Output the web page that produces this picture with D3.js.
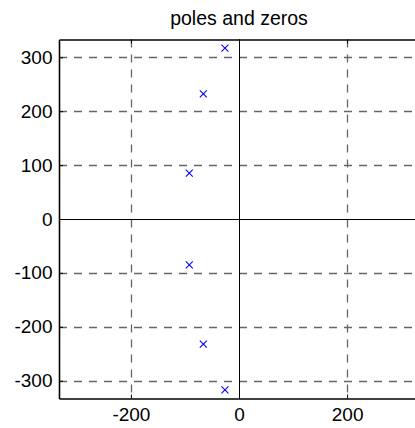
<!DOCTYPE html>
<html>
<head>
<meta charset="utf-8">
<script src="https://cdn.jsdelivr.net/npm/d3@7"></script>
<style>
  html, body { margin: 0; padding: 0; background: #fff; }
  svg { display: block; }
  text { font-family: "Liberation Sans", Arial, sans-serif; fill: #000; }
</style>
</head>
<body>
<svg id="chart" width="415" height="428"></svg>
<script>
// Data
const poleRe = [-26, -66, -92, -92, -66, -26];
const poleIm = [317, 232, 85, -85, -232, -317];
const xTicks = [-200, 0, 200];
const yTicks = [-300, -200, -100, 0, 100, 200, 300];
const xLimits = [-333, 333];
const yLimits = [-333, 333];
const titleText = "poles and zeros";

const svg = d3.select("#chart");
const margin = { left: 59, top: 39.5 };
const plotRight = 419;
const plotBottom = 398.5;

const x = d3.scaleLinear().domain(xLimits).range([margin.left, plotRight]);
const y = d3.scaleLinear().domain(yLimits).range([plotBottom, margin.top]);
const fmt = d => String(d);

// Grid lines (dashed)
const grid = svg.append("g").attr("class", "grid");
grid.selectAll("line.gx").data(xTicks.filter(d => d !== 0)).enter().append("line")
  .attr("x1", d => Math.round(x(d)) + 0.5).attr("x2", d => Math.round(x(d)) + 0.5)
  .attr("y1", margin.top).attr("y2", plotBottom)
  .attr("stroke", "#666").attr("stroke-width", 1.3).attr("stroke-dasharray", "8,7");
grid.selectAll("line.gy").data(yTicks.filter(d => d !== 0)).enter().append("line")
  .attr("y1", d => Math.round(y(d)) + 0.5).attr("y2", d => Math.round(y(d)) + 0.5)
  .attr("x1", margin.left).attr("x2", plotRight)
  .attr("stroke", "#666").attr("stroke-width", 1.3).attr("stroke-dasharray", "8,7");

// Real and imaginary axes (solid)
svg.append("line")
  .attr("x1", margin.left).attr("x2", plotRight)
  .attr("y1", Math.round(y(0)) + 0.5).attr("y2", Math.round(y(0)) + 0.5)
  .attr("stroke", "#000").attr("stroke-width", 1);
svg.append("line")
  .attr("x1", Math.round(x(0)) + 0.5).attr("x2", Math.round(x(0)) + 0.5)
  .attr("y1", margin.top).attr("y2", plotBottom)
  .attr("stroke", "#000").attr("stroke-width", 1);

// Axes
const fontSize = "19px";
const gx = svg.append("g").attr("transform", `translate(0,${plotBottom})`)
  .call(d3.axisBottom(x).tickValues(xTicks).tickFormat(fmt).tickSizeInner(-4).tickSizeOuter(0).tickPadding(9));
const gxt = svg.append("g").attr("transform", `translate(0,${margin.top})`)
  .call(d3.axisTop(x).tickValues(xTicks).tickSizeInner(-4).tickSizeOuter(0).tickFormat(""));
const gy = svg.append("g").attr("transform", `translate(${margin.left},0)`)
  .call(d3.axisLeft(y).tickValues(yTicks).tickFormat(fmt).tickSizeInner(-4).tickSizeOuter(0).tickPadding(6.5));

[gx, gxt, gy].forEach(g => {
  g.select(".domain").attr("stroke", "#000").attr("stroke-width", 1.6);
  g.selectAll(".tick line").attr("stroke", "#000").attr("stroke-width", 1);
  g.selectAll(".tick text").attr("font-size", fontSize)
    .attr("font-family", "Liberation Sans, Arial, sans-serif").attr("fill", "#000");
});

// Pole markers (x)
const s = 3.5;
svg.append("g").selectAll("path").data(poleRe.map((r, i) => ({ re: r, im: poleIm[i] })))
  .enter().append("path")
  .attr("d", d => {
    const cx = x(d.re), cy = y(d.im);
    return `M${cx - s},${cy - s}L${cx + s},${cy + s}M${cx - s},${cy + s}L${cx + s},${cy - s}`;
  })
  .attr("stroke", "#0000ff").attr("stroke-width", 1.1).attr("fill", "none");

// Title
svg.append("text")
  .attr("x", x(0)).attr("y", 24.5)
  .attr("text-anchor", "middle")
  .attr("font-size", "19.5px")
  .text(titleText);
</script>
</body>
</html>
